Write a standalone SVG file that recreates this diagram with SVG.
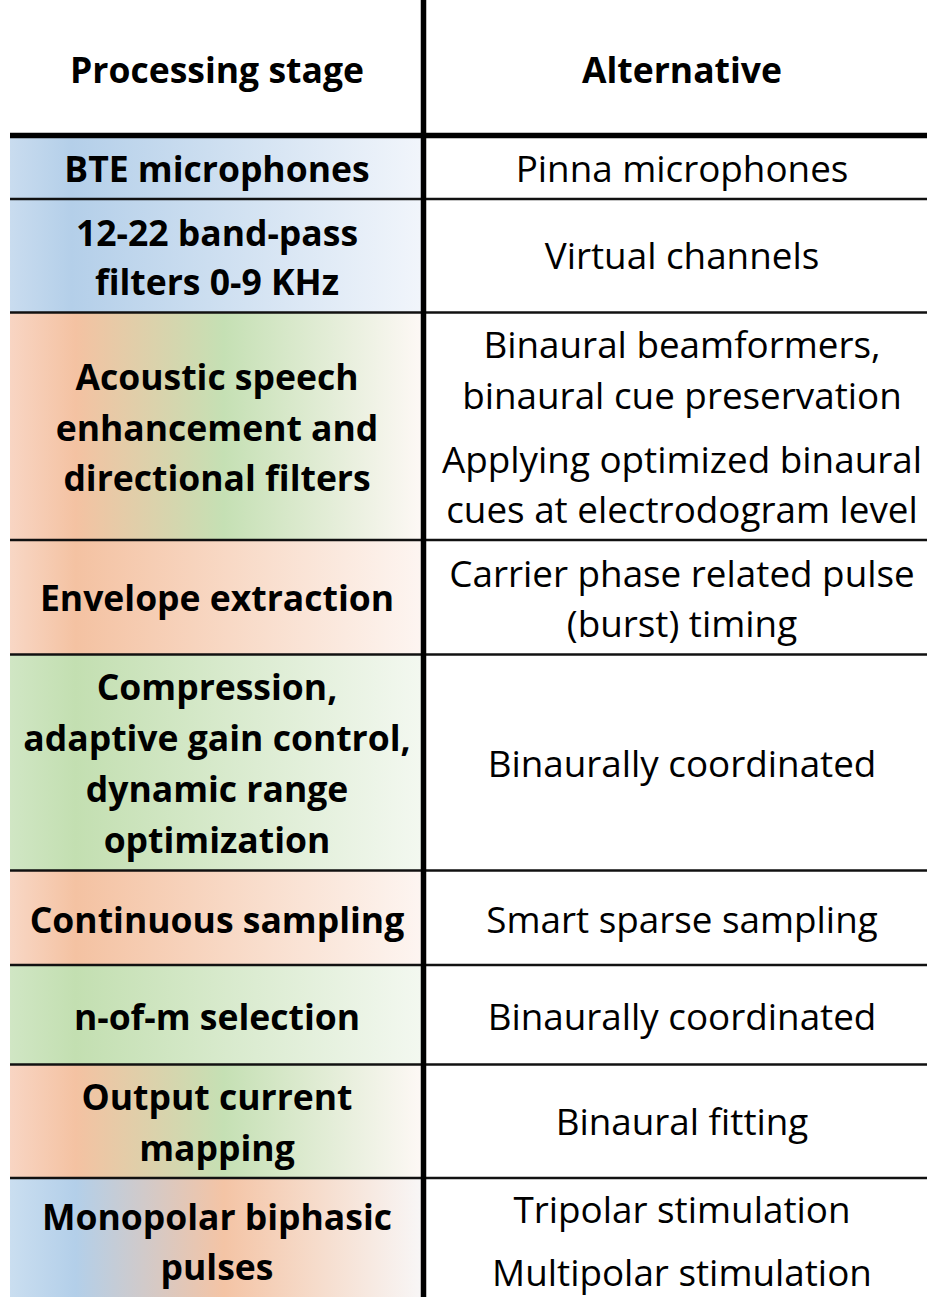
<svg xmlns="http://www.w3.org/2000/svg" width="927" height="1297" viewBox="0 0 927 1297">
  <style>
    .st { font-family: "Open Sans", "Liberation Sans", sans-serif; font-weight: 700; font-size: 35.5px; fill: #000; text-anchor: middle; }
    .alt { font-family: "Open Sans", "Liberation Sans", sans-serif; font-weight: 400; font-size: 36.8px; fill: #000; text-anchor: middle; }
    .sep { stroke: #111; stroke-width: 2.6; fill: none; }
    .thick { stroke: #000; stroke-width: 5.5; fill: none; }
  </style>
  <defs>
    <linearGradient id="gBlue" x1="0" y1="0" x2="1" y2="0">
      <stop offset="0" stop-color="#c9dcef"/>
      <stop offset="0.15" stop-color="#b4cfe9"/>
      <stop offset="1" stop-color="#f1f5fb"/>
    </linearGradient>
    <linearGradient id="gOGW" x1="0" y1="0" x2="1" y2="0">
      <stop offset="0" stop-color="#f8d5c3"/>
      <stop offset="0.16" stop-color="#f4c2a2"/>
      <stop offset="0.52" stop-color="#c5e0b4"/>
      <stop offset="1" stop-color="#fdf8f5"/>
    </linearGradient>
    <linearGradient id="gOW" x1="0" y1="0" x2="1" y2="0">
      <stop offset="0" stop-color="#f8d7c5"/>
      <stop offset="0.16" stop-color="#f4c2a2"/>
      <stop offset="1" stop-color="#fdf5f1"/>
    </linearGradient>
    <linearGradient id="gGW" x1="0" y1="0" x2="1" y2="0">
      <stop offset="0" stop-color="#d0e6c4"/>
      <stop offset="0.16" stop-color="#c3dfb1"/>
      <stop offset="1" stop-color="#f3f8f0"/>
    </linearGradient>
    <linearGradient id="gBOW" x1="0" y1="0" x2="1" y2="0">
      <stop offset="0" stop-color="#cadef0"/>
      <stop offset="0.16" stop-color="#b3cfe9"/>
      <stop offset="0.52" stop-color="#f4c4a5"/>
      <stop offset="1" stop-color="#f8f6f6"/>
    </linearGradient>
  </defs>

  <rect width="927" height="1297" fill="#fff"/>

  <g id="header">
    <text class="st" x="217" y="82.5">Processing stage</text>
    <text class="st" x="682" y="82.5">Alternative</text>
  </g>

  <g id="row-bte">
    <rect x="10" y="138" width="411" height="61" fill="url(#gBlue)"/>
    <text class="st" x="217" y="181.5">BTE microphones</text>
    <text class="alt" x="682" y="181.5">Pinna microphones</text>
  </g>

  <g id="row-bandpass">
    <rect x="10" y="199" width="411" height="114" fill="url(#gBlue)"/>
    <text class="st" x="217" y="245.5">12-22 band-pass</text>
    <text class="st" x="217" y="295">filters 0-9 KHz</text>
    <text class="alt" x="682" y="269">Virtual channels</text>
  </g>

  <g id="row-acoustic">
    <rect x="10" y="313" width="411" height="227" fill="url(#gOGW)"/>
    <text class="st" x="217" y="390">Acoustic speech</text>
    <text class="st" x="217" y="440.5">enhancement and</text>
    <text class="st" x="217" y="491">directional filters</text>
    <text class="alt" x="682" y="357.5">Binaural beamformers,</text>
    <text class="alt" x="682" y="408.5">binaural cue preservation</text>
    <text class="alt" x="682" y="472.5">Applying optimized binaural</text>
    <text class="alt" x="682" y="522.5">cues at electrodogram level</text>
  </g>

  <g id="row-envelope">
    <rect x="10" y="540" width="411" height="115" fill="url(#gOW)"/>
    <text class="st" x="217" y="610.5">Envelope extraction</text>
    <text class="alt" x="682" y="586.5">Carrier phase related pulse</text>
    <text class="alt" x="682" y="637">(burst) timing</text>
  </g>

  <g id="row-compression">
    <rect x="10" y="655" width="411" height="216" fill="url(#gGW)"/>
    <text class="st" x="217" y="700">Compression,</text>
    <text class="st" x="217" y="751">adaptive gain control,</text>
    <text class="st" x="217" y="801.5">dynamic range</text>
    <text class="st" x="217" y="853">optimization</text>
    <text class="alt" x="682" y="776.5">Binaurally coordinated</text>
  </g>

  <g id="row-sampling">
    <rect x="10" y="871" width="411" height="94" fill="url(#gOW)"/>
    <text class="st" x="217" y="932.5">Continuous sampling</text>
    <text class="alt" x="682" y="932.5">Smart sparse sampling</text>
  </g>

  <g id="row-nofm">
    <rect x="10" y="965" width="411" height="100" fill="url(#gGW)"/>
    <text class="st" x="217" y="1029.5">n-of-m selection</text>
    <text class="alt" x="682" y="1030">Binaurally coordinated</text>
  </g>

  <g id="row-output">
    <rect x="10" y="1065" width="411" height="113" fill="url(#gOGW)"/>
    <text class="st" x="217" y="1109.5">Output current</text>
    <text class="st" x="217" y="1161">mapping</text>
    <text class="alt" x="682" y="1135">Binaural fitting</text>
  </g>

  <g id="row-monopolar">
    <rect x="10" y="1178" width="411" height="119" fill="url(#gBOW)"/>
    <text class="st" x="217" y="1229.5">Monopolar biphasic</text>
    <text class="st" x="217" y="1280">pulses</text>
    <text class="alt" x="682" y="1222.5">Tripolar stimulation</text>
    <text class="alt" x="682" y="1285.5">Multipolar stimulation</text>
  </g>

  <g id="connectors">
    <line class="sep" x1="10" y1="199" x2="927" y2="199"/>
    <line class="sep" x1="10" y1="312.5" x2="927" y2="312.5"/>
    <line class="sep" x1="10" y1="540" x2="927" y2="540"/>
    <line class="sep" x1="10" y1="654.5" x2="927" y2="654.5"/>
    <line class="sep" x1="10" y1="870.5" x2="927" y2="870.5"/>
    <line class="sep" x1="10" y1="965" x2="927" y2="965"/>
    <line class="sep" x1="10" y1="1064.5" x2="927" y2="1064.5"/>
    <line class="sep" x1="10" y1="1178" x2="927" y2="1178"/>
    <line class="thick" x1="10" y1="135.5" x2="927" y2="135.5"/>
    <line class="thick" x1="423.5" y1="0" x2="423.5" y2="1297"/>
  </g>
</svg>
